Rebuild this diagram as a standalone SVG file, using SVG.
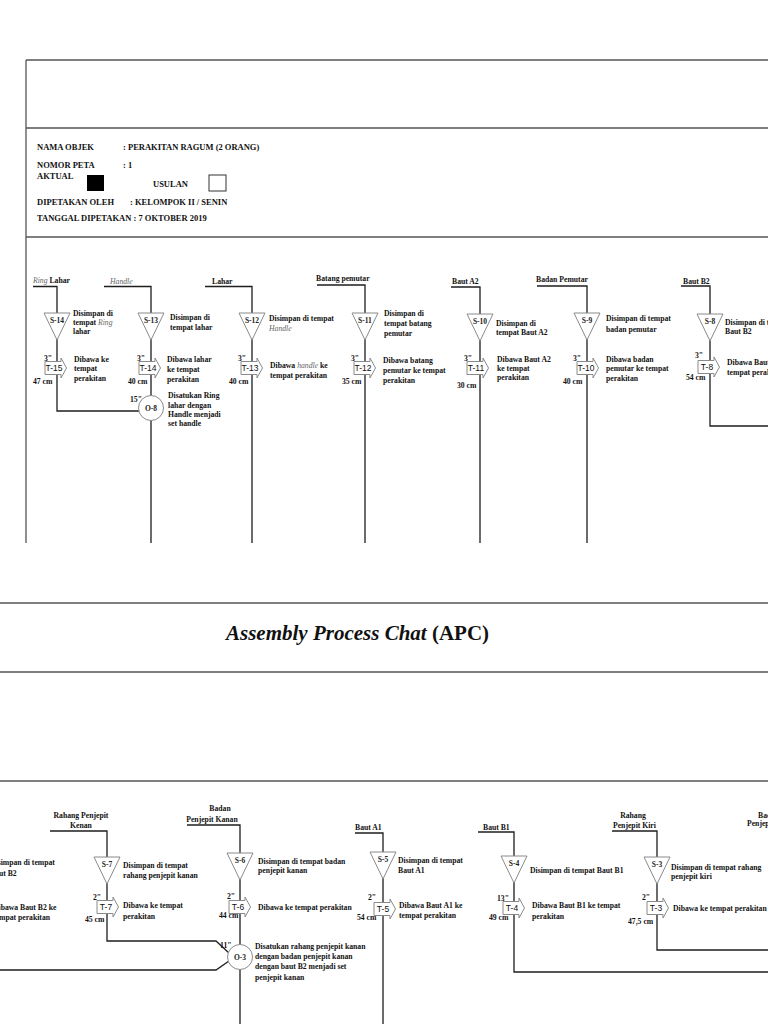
<svg xmlns="http://www.w3.org/2000/svg" width="768" height="1024" viewBox="0 0 768 1024">
<style>
.frame{stroke:#555;stroke-width:1.3;fill:none}
.ln{stroke:#1e1e1e;stroke-width:1.3;fill:none}
.sym{fill:#fff;stroke:#8a8a8a;stroke-width:1}
.t{font-family:"Liberation Serif","Times New Roman",serif;font-size:7.7px;font-weight:bold;fill:#111}
.h{font-family:"Liberation Serif","Times New Roman",serif;font-size:8.5px;font-weight:bold;fill:#111}
.it{font-style:italic;font-weight:normal;fill:#666}
.c{text-anchor:middle}
.sl{font-family:"Liberation Serif","Times New Roman",serif;font-size:7.5px;font-weight:bold;fill:#222;text-anchor:middle}
.tl{font-family:"Liberation Sans",Arial,sans-serif;font-size:8.5px;fill:#111;text-anchor:middle}
.title{font-family:"Liberation Serif","Times New Roman",serif;font-size:21px;font-weight:bold;fill:#111}
</style>
<defs>
<path id="tri" class="sym" d="M-13,0 H13 L0,27 Z"/>
<path id="arr" class="sym" d="M0,-6.5 H16 V-10 L21.5,0 L16,10 V6.5 H0 Z"/>
</defs>
<rect width="768" height="1024" fill="#fff"/>

<g id="frame">
<path class="frame" d="M26,60 H768 M26,60 V543 M26,128 H768 M26,237 H768"/>
<path class="frame" d="M0,603 H768 M0,672 H768 M0,781 H768"/>
</g>

<g id="header">
<text class="h" x="37" y="150">NAMA OBJEK</text>
<text class="h" x="123" y="150">: PERAKITAN RAGUM (2 ORANG)</text>
<text class="h" x="37" y="168">NOMOR PETA</text>
<text class="h" x="123" y="168">: 1</text>
<text class="h" x="37" y="179">AKTUAL</text>
<rect x="87" y="175" width="17" height="16" fill="#000"/>
<text class="h" x="153" y="187">USULAN</text>
<rect x="209" y="175" width="17" height="16" fill="#fff" stroke="#333" stroke-width="1"/>
<text class="h" x="37" y="205">DIPETAKAN OLEH</text>
<text class="h" x="130" y="205">: KELOMPOK II / SENIN</text>
<text class="h" x="37" y="221">TANGGAL DIPETAKAN  : 7 OKTOBER 2019</text>
</g>

<g id="title">
<text class="title" x="226" y="640"><tspan font-style="italic">Assembly Process Chat</tspan> (APC)</text>
</g>

<g id="connectors">
<path class="ln" d="M33,286.5 H57 V411 H139"/>
<path class="ln" d="M104,286.5 H151 V543"/>
<path class="ln" d="M205,286.5 H252 V543"/>
<path class="ln" d="M317,285 H365 V543"/>
<path class="ln" d="M451,287 H480 V543"/>
<path class="ln" d="M537,286 H587 V543"/>
<path class="ln" d="M681,286 H710 V426 H768"/>
<path class="ln" d="M0,970 H216 L229,961"/>
<path class="ln" d="M50,831 H107 V941 H216 L229,953"/>
<path class="ln" d="M187,825 H240 V1024"/>
<path class="ln" d="M355,833 H383 V1024"/>
<path class="ln" d="M478,832 H514 V972 H768"/>
<path class="ln" d="M612,831 H657 V950 H768"/>
</g>

<g id="labels">
<text class="t" x="33" y="283"><tspan class="it">Ring</tspan> Lahar</text>
<text class="t it" x="110" y="284">Handle</text>
<text class="t" x="212" y="284">Lahar</text>
<text class="t" x="316" y="281">Batang pemutar</text>
<text class="t" x="452" y="284">Baut A2</text>
<text class="t" x="536" y="282">Badan Pemutar</text>
<text class="t" x="683" y="284">Baut B2</text>
<text class="t c" x="81" y="818">Rahang Penjepit</text>
<text class="t c" x="81" y="828">Kenan</text>
<text class="t c" x="220" y="811">Badan</text>
<text class="t c" x="212" y="822">Penjepit Kanan</text>
<text class="t" x="355" y="830">Baut A1</text>
<text class="t" x="483" y="830">Baut B1</text>
<text class="t c" x="633" y="818">Rahang</text>
<text class="t" x="613" y="828">Penjepit Kiri</text>
<text class="t" x="758" y="818">Badan</text>
<text class="t" x="747" y="826">Penjepit Kiri</text>
</g>

<!-- top row -->
<g id="S-14">
<use href="#tri" x="57" y="313"/><text class="sl" x="57" y="323">S-14</text>
<text class="t" x="73" y="316">Disimpan di</text>
<text class="t" x="73" y="325">tempat <tspan class="it">Ring</tspan></text>
<text class="t" x="73" y="334">lahar</text>
</g>
<g id="T-15">
<use href="#arr" x="45" y="368"/><text class="tl" x="54" y="371">T-15</text>
<text class="t" x="44" y="361">3"</text><text class="t" x="33" y="384">47 cm</text>
<text class="t" x="74" y="362">Dibawa ke</text>
<text class="t" x="74" y="371">tempat</text>
<text class="t" x="74" y="381">perakitan</text>
</g>
<g id="S-13">
<use href="#tri" x="151" y="313"/><text class="sl" x="151" y="323">S-13</text>
<text class="t" x="170" y="320">Disimpan di</text>
<text class="t" x="170" y="330">tempat lahar</text>
</g>
<g id="T-14">
<use href="#arr" x="139" y="368"/><text class="tl" x="148" y="371">T-14</text>
<text class="t" x="137" y="361">3"</text><text class="t" x="128" y="384">40 cm</text>
<text class="t" x="167" y="362">Dibawa lahar</text>
<text class="t" x="167" y="372">ke tempat</text>
<text class="t" x="167" y="382">perakitan</text>
</g>
<g id="O-8">
<circle class="sym" cx="151" cy="408" r="12.5"/><text class="sl" x="151" y="410.5">O-8</text>
<text class="t" x="130" y="402">15"</text>
<text class="t" x="168" y="398">Disatukan Ring</text>
<text class="t" x="168" y="408">lahar dengan</text>
<text class="t" x="168" y="417">Handle menjadi</text>
<text class="t" x="168" y="426">set handle</text>
</g>
<g id="S-12">
<use href="#tri" x="252" y="313"/><text class="sl" x="252" y="323">S-12</text>
<text class="t" x="269" y="321">Disimpan di tempat</text>
<text class="t it" x="269" y="331">Handle</text>
</g>
<g id="T-13">
<use href="#arr" x="241" y="368"/><text class="tl" x="250" y="371">T-13</text>
<text class="t" x="238" y="361">3"</text><text class="t" x="229" y="384">40 cm</text>
<text class="t" x="270" y="368">Dibawa <tspan class="it">handle</tspan> ke</text>
<text class="t" x="270" y="378">tempat perakitan</text>
</g>
<g id="S-11">
<use href="#tri" x="365" y="313"/><text class="sl" x="365" y="323">S-11</text>
<text class="t" x="384" y="316">Disimpan di</text>
<text class="t" x="384" y="326">tempat batang</text>
<text class="t" x="384" y="336">pemutar</text>
</g>
<g id="T-12">
<use href="#arr" x="354" y="368"/><text class="tl" x="363" y="371">T-12</text>
<text class="t" x="351" y="361">3"</text><text class="t" x="342" y="384">35 cm</text>
<text class="t" x="383" y="363">Dibawa batang</text>
<text class="t" x="383" y="373">pemutar ke tempat</text>
<text class="t" x="383" y="383">perakitan</text>
</g>
<g id="S-10">
<use href="#tri" x="480" y="314"/><text class="sl" x="480" y="324">S-10</text>
<text class="t" x="496" y="326">Disimpan di</text>
<text class="t" x="496" y="335">tempat Baut A2</text>
</g>
<g id="T-11">
<use href="#arr" x="467" y="368"/><text class="tl" x="476" y="371">T-11</text>
<text class="t" x="464" y="361">3"</text><text class="t" x="457" y="388">30 cm</text>
<text class="t" x="497" y="362">Dibawa Baut A2</text>
<text class="t" x="497" y="371">ke tempat</text>
<text class="t" x="497" y="380">perakitan</text>
</g>
<g id="S-9">
<use href="#tri" x="587" y="313"/><text class="sl" x="587" y="323">S-9</text>
<text class="t" x="606" y="321">Disimpan di tempat</text>
<text class="t" x="606" y="332">badan pemutar</text>
</g>
<g id="T-10">
<use href="#arr" x="577" y="368"/><text class="tl" x="586" y="371">T-10</text>
<text class="t" x="573" y="361">3"</text><text class="t" x="563" y="384">40 cm</text>
<text class="t" x="606" y="362">Dibawa badan</text>
<text class="t" x="606" y="371">pemutar ke tempat</text>
<text class="t" x="606" y="381">perakitan</text>
</g>
<g id="S-8">
<use href="#tri" x="710" y="314"/><text class="sl" x="710" y="324">S-8</text>
<text class="t" x="725" y="325">Disimpan di tempat</text>
<text class="t" x="725" y="334">Baut B2</text>
</g>
<g id="T-8">
<use href="#arr" x="698" y="367"/><text class="tl" x="707" y="370">T-8</text>
<text class="t" x="695" y="358">3"</text><text class="t" x="686" y="380">54 cm</text>
<text class="t" x="727" y="365">Dibawa Baut B2 ke</text>
<text class="t" x="727" y="375">tempat perakitan</text>
</g>

<!-- bottom row -->
<g id="S-8-cont">
<text class="t" x="-10" y="865">Disimpan di tempat</text>
<text class="t" x="-10" y="876">Baut B2</text>
<text class="t" x="-7" y="910">Dibawa Baut B2 ke</text>
<text class="t" x="-7" y="920">tempat perakitan</text>
</g>
<g id="S-7">
<use href="#tri" x="107" y="857"/><text class="sl" x="107" y="867">S-7</text>
<text class="t" x="123" y="868">Disimpan di tempat</text>
<text class="t" x="123" y="878">rahang penjepit kanan</text>
</g>
<g id="T-7">
<use href="#arr" x="97" y="907"/><text class="tl" x="106" y="910">T-7</text>
<text class="t" x="93" y="900">2"</text><text class="t" x="85" y="922">45 cm</text>
<text class="t" x="123" y="908">Dibawa ke tempat</text>
<text class="t" x="123" y="919">perakitan</text>
</g>
<g id="S-6">
<use href="#tri" x="240" y="853"/><text class="sl" x="240" y="863">S-6</text>
<text class="t" x="258" y="864">Disimpan di tempat badan</text>
<text class="t" x="258" y="873">penjepit kanan</text>
</g>
<g id="T-6">
<use href="#arr" x="229" y="907"/><text class="tl" x="238" y="910">T-6</text>
<text class="t" x="227" y="899">2"</text><text class="t" x="219" y="918">44 cm</text>
<text class="t" x="258" y="910">Dibawa ke tempat perakitan</text>
</g>
<g id="O-3">
<circle class="sym" cx="240" cy="957" r="12.5"/><text class="sl" x="240" y="959.5">O-3</text>
<text class="t" x="220" y="948">11"</text>
<text class="t" x="255" y="949">Disatukan rahang penjepit kanan</text>
<text class="t" x="255" y="959">dengan badan penjepit kanan</text>
<text class="t" x="255" y="969">dengan baut B2 menjadi set</text>
<text class="t" x="255" y="980">penjepit kanan</text>
</g>
<g id="S-5">
<use href="#tri" x="383" y="852"/><text class="sl" x="383" y="862">S-5</text>
<text class="t" x="398" y="863">Disimpan di tempat</text>
<text class="t" x="398" y="873">Baut A1</text>
</g>
<g id="T-5">
<use href="#arr" x="374" y="909"/><text class="tl" x="383" y="912">T-5</text>
<text class="t" x="368" y="900">2"</text><text class="t" x="357" y="920">54 cm</text>
<text class="t" x="399" y="908">Dibawa Baut A1 ke</text>
<text class="t" x="399" y="918">tempat perakitan</text>
</g>
<g id="S-4">
<use href="#tri" x="514" y="856"/><text class="sl" x="514" y="866">S-4</text>
<text class="t" x="530" y="873">Disimpan di tempat Baut B1</text>
</g>
<g id="T-4">
<use href="#arr" x="503" y="908"/><text class="tl" x="512" y="911">T-4</text>
<text class="t" x="497" y="901">13"</text><text class="t" x="489" y="920">49 cm</text>
<text class="t" x="532" y="908">Dibawa Baut B1 ke tempat</text>
<text class="t" x="532" y="919">perakitan</text>
</g>
<g id="S-3">
<use href="#tri" x="657" y="857"/><text class="sl" x="657" y="867">S-3</text>
<text class="t" x="671" y="870">Disimpan di tempat rahang</text>
<text class="t" x="671" y="879">penjepit kiri</text>
</g>
<g id="T-3">
<use href="#arr" x="647" y="908"/><text class="tl" x="656" y="911">T-3</text>
<text class="t" x="642" y="900">2"</text><text class="t" x="628" y="924">47,5 cm</text>
<text class="t" x="673" y="911">Dibawa ke tempat perakitan</text>
</g>
</svg>
